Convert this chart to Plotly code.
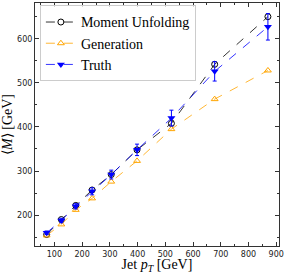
import plotly.graph_objects as go

jet_pt = [72, 125, 177, 236, 305, 398, 522, 678, 870]
moment_unfolding = [156, 190, 222, 257, 292, 348, 408, 542, 650]
generation = [154, 179, 212, 238, 276, 323, 395, 463, 528]
truth = [160, 188, 220, 254, 292, 348, 420, 526, 627]
truth_err = [4, 5, 6, 8, 10, 13, 18, 22, 30]

serif = "Liberation Serif"
sans = "DejaVu Sans"

fig = go.Figure()
fig.add_trace(go.Scatter(
    x=jet_pt, y=moment_unfolding, name="Moment Unfolding", mode="lines+markers",
    line=dict(color="black", width=0.8, dash="dash"),
    marker=dict(symbol="circle-open", size=6, color="black", line=dict(width=1)),
))
fig.add_trace(go.Scatter(
    x=jet_pt, y=generation, name="Generation", mode="lines+markers",
    line=dict(color="orange", width=0.8, dash="dash"),
    marker=dict(symbol="triangle-up-open", size=6, color="orange", line=dict(width=1)),
))
fig.add_trace(go.Scatter(
    x=jet_pt, y=truth, name="Truth", mode="lines+markers",
    line=dict(color="blue", width=0.8, dash="dash"),
    marker=dict(symbol="triangle-down", size=7, color="blue"),
    error_y=dict(type="data", array=truth_err, color="blue", thickness=1, width=2),
))

axis_common = dict(
    showgrid=False, zeroline=False, showline=True, linecolor="#333", linewidth=1,
    mirror="ticks", ticks="inside", ticklen=4, tickcolor="#333", automargin=False,
    tickfont=dict(family=sans, size=8, color="#222"),
    minor=dict(ticks="inside", ticklen=2, tickcolor="#333"),
)

fig.update_layout(
    width=289, height=274,
    margin=dict(l=35, r=10, t=3, b=28),
    paper_bgcolor="white", plot_bgcolor="white",
    xaxis=dict(range=[30, 910], tickvals=[100, 200, 300, 400, 500, 600, 700, 800, 900],
               title=dict(text="Jet <i>p</i><sub><i>T</i></sub> [GeV]", font=dict(family=serif, size=14, color="black"), standoff=1),
               **axis_common),
    yaxis=dict(range=[130, 681], tickvals=[200, 300, 400, 500, 600],
               title=dict(text="⟨<i>M</i>⟩ [GeV]", font=dict(family=serif, size=14, color="black"), standoff=2),
               **axis_common),
    legend=dict(x=0.02, y=0.99, xanchor="left", yanchor="top",
                font=dict(family=serif, size=14, color="black"),
                bordercolor="#ccc", borderwidth=1, bgcolor="rgba(255,255,255,0.8)",
                tracegroupgap=0, itemwidth=30),
    showlegend=True,
)

fig.write_html("out.html", config={"displayModeBar": False},
               post_script="document.body.style.margin='0';document.body.style.overflow='hidden';")
